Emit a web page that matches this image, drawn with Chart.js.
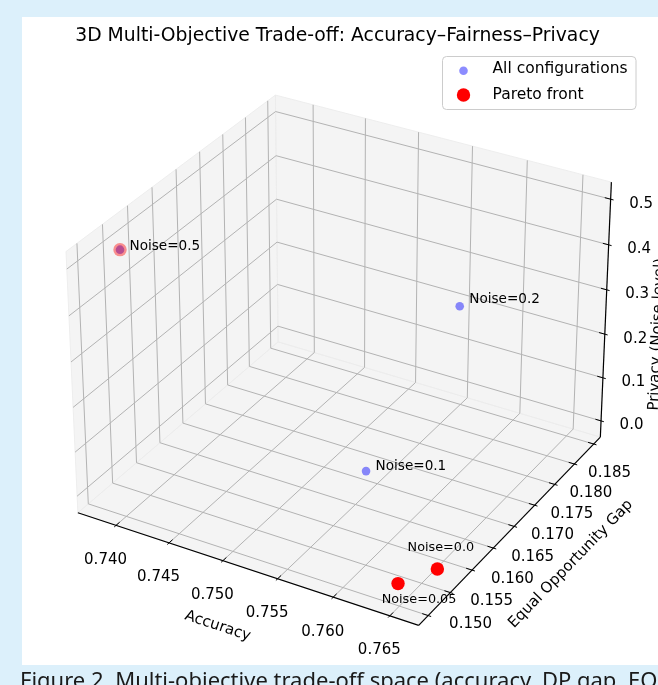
<!DOCTYPE html>
<html>
<head>
<meta charset="utf-8">
<script src="https://cdn.jsdelivr.net/npm/chart.js@4.4.1/dist/chart.umd.min.js"></script>
<style>
  html, body { margin: 0; padding: 0; background: #dcf0fb; }
  #wrap { position: relative; width: 658px; height: 685px; overflow: hidden; }
  canvas { display: block; }
</style>
</head>
<body>
<div id="wrap"><canvas id="c" width="658" height="685"></canvas></div>
<script>
// ---------- data ----------
const noiseLevels = [0.0, 0.05, 0.1, 0.2, 0.5];            // privacy (noise level)
const noiseNames  = ['0.0', '0.05', '0.1', '0.2', '0.5'];
const accuracy    = [0.7662, 0.7660, 0.7577, 0.7551, 0.7382];
const eoGap       = [0.1554, 0.1471, 0.1607, 0.1891, 0.1544];
const paretoNoise = [0.0, 0.05, 0.5];                      // configurations on the Pareto front

// axis limits of the 3D box
const accLimits  = [0.73635, 0.76752];
const eoLimits   = [0.14789, 0.19175];
const privLimits = [-0.038, 0.537];

// ticks
const accTicks       = [0.740, 0.745, 0.750, 0.755, 0.760, 0.765];
const accTickLabels  = ['0.740', '0.745', '0.750', '0.755', '0.760', '0.765'];
const eoTicks        = [0.150, 0.155, 0.160, 0.165, 0.170, 0.175, 0.180, 0.185, 0.190];
const eoTickLabels   = ['0.150', '0.155', '0.160', '0.165', '0.170', '0.175', '0.180', '0.185'];
const privTicks      = [0.0, 0.1, 0.2, 0.3, 0.4, 0.5];
const privTickLabels = ['0.0', '0.1', '0.2', '0.3', '0.4', '0.5'];

// ---------- styling ----------
const FONT = '"DejaVu Sans", "Liberation Sans", sans-serif';
const BLUE = 'rgba(0,0,255,0.45)';
const paretoColors = ['#ff0000', '#ff0000', 'rgba(255,0,0,0.42)'];
// annotation placement per configuration index: [align, dx, dy, font px]
const notePlacement = [
  ['center', 3.5, -18, 12.8],
  ['center', 21, 19.7, 12.8],
  ['left', 9.5, -1.5, 13.6],
  ['left', 9.5, -3.5, 13.6],
  ['left', 9.5, 0.5, 13.6]
];

// ---------- perspective projection (elev 30, azim -60) ----------
const D2R = Math.PI / 180;
const VIEW = { elev: 30, azim: -60, dist: 10 };
const BOX = [8 / 7, 8 / 7, 6 / 7];
const wv = [Math.cos(VIEW.elev * D2R) * Math.cos(VIEW.azim * D2R),
            Math.cos(VIEW.elev * D2R) * Math.sin(VIEW.azim * D2R),
            Math.sin(VIEW.elev * D2R)];
const un = Math.hypot(wv[0], wv[1]);
const uv = [-wv[1] / un, wv[0] / un, 0];
const vv = [wv[1] * uv[2] - wv[2] * uv[1], wv[2] * uv[0] - wv[0] * uv[2], wv[0] * uv[1] - wv[1] * uv[0]];

function project(a, e, p) {
  const q = [
    ((a - accLimits[0]) / (accLimits[1] - accLimits[0]) - 0.5) * BOX[0],
    ((e - eoLimits[0]) / (eoLimits[1] - eoLimits[0]) - 0.5) * BOX[1],
    ((p - privLimits[0]) / (privLimits[1] - privLimits[0]) - 0.5) * BOX[2]
  ];
  const dot = r => r[0] * q[0] + r[1] * q[1] + r[2] * q[2];
  const d = VIEW.dist - dot(wv);
  return { x: dot(uv) / d, y: dot(vv) / d, depth: d };
}

const allPts = noiseLevels.map((n, i) => Object.assign(project(accuracy[i], eoGap[i], n), { idx: i }));
const paretoPts = paretoNoise.map(n => {
  const i = noiseLevels.indexOf(n);
  return Object.assign(project(accuracy[i], eoGap[i], n), { idx: i });
});

// ---------- drawing helpers ----------
function px(chart, a, e, p) {
  const t = project(a, e, p);
  return [chart.scales.x.getPixelForValue(t.x), chart.scales.y.getPixelForValue(t.y)];
}
function polyline(ctx, pts, stroke, width) {
  ctx.beginPath();
  pts.forEach((pt, i) => i ? ctx.lineTo(pt[0], pt[1]) : ctx.moveTo(pt[0], pt[1]));
  ctx.strokeStyle = stroke; ctx.lineWidth = width; ctx.stroke();
}
function polygon(ctx, pts, fill, stroke) {
  ctx.beginPath();
  pts.forEach((pt, i) => i ? ctx.lineTo(pt[0], pt[1]) : ctx.moveTo(pt[0], pt[1]));
  ctx.closePath();
  ctx.fillStyle = fill; ctx.fill();
  if (stroke) { ctx.strokeStyle = stroke; ctx.lineWidth = 1; ctx.stroke(); }
}
function text(ctx, s, x, y, fs, align, rot) {
  ctx.save();
  ctx.translate(x, y);
  if (rot) ctx.rotate(rot);
  ctx.font = fs + 'px ' + FONT;
  ctx.fillStyle = '#000';
  ctx.textAlign = align || 'center';
  ctx.textBaseline = 'alphabetic';
  ctx.fillText(s, 0, 0.36 * fs);
  ctx.restore();
}
const lerp = (a, b, t) => a + (b - a) * t;

// ---------- 3D box: panes, grid, axes ----------
const boxPlugin = {
  id: 'box3d',
  beforeDraw(chart) {
    const ctx = chart.ctx;
    ctx.save();
    ctx.fillStyle = '#ffffff';
    ctx.fillRect(22, 17, 636, 648);
    ctx.restore();
  },
  beforeDatasetsDraw(chart) {
    const ctx = chart.ctx;
    const [x0, x1] = accLimits, [y0, y1] = eoLimits, [z0, z1] = privLimits;
    const P = (a, e, p) => px(chart, a, e, p);
    ctx.save();
    ctx.lineCap = 'butt';

    // panes
    const paneFill = 'rgba(236,236,236,0.6)', paneEdge = 'rgba(236,236,236,0.9)';
    polygon(ctx, [P(x0, y0, z0), P(x1, y0, z0), P(x1, y1, z0), P(x0, y1, z0)], paneFill, paneEdge);
    polygon(ctx, [P(x0, y0, z0), P(x0, y1, z0), P(x0, y1, z1), P(x0, y0, z1)], paneFill, paneEdge);
    polygon(ctx, [P(x0, y1, z0), P(x1, y1, z0), P(x1, y1, z1), P(x0, y1, z1)], paneFill, paneEdge);

    // grid lines
    const gc = '#b3b3b3', gw = 1;
    accTicks.forEach(v => polyline(ctx, [P(v, y0, z0), P(v, y1, z0), P(v, y1, z1)], gc, gw));
    eoTicks.forEach(v => polyline(ctx, [P(x1, v, z0), P(x0, v, z0), P(x0, v, z1)], gc, gw));
    privTicks.forEach(v => polyline(ctx, [P(x0, y0, v), P(x0, y1, v), P(x1, y1, v)], gc, gw));

    // axis lines
    const ac = '#000', aw = 1.2;
    polyline(ctx, [P(x0, y0, z0), P(x1, y0, z0)], ac, aw);
    polyline(ctx, [P(x1, y0, z0), P(x1, y1, z0)], ac, aw);
    polyline(ctx, [P(x1, y1, z0), P(x1, y1, z1)], ac, aw);

    // tick marks
    const dx = (x1 - x0) / 12, dy = (y1 - y0) / 12;
    accTicks.forEach(v => polyline(ctx, [P(v, y0 + 0.2 * dy, z0), P(v, y0 - 0.1 * dy, z0)], ac, 1));
    eoTicks.forEach(v => polyline(ctx, [P(x1 - 0.2 * dx, v, z0), P(x1 + 0.1 * dx, v, z0)], ac, 1));
    privTicks.forEach(v => polyline(ctx, [P(x1 - 0.2 * dx, y1, v), P(x1 + 0.1 * dx, y1, v)], ac, 1));

    // tick labels
    accTickLabels.forEach((s, i) => {
      const t = P(accTicks[i], y0, z0);
      text(ctx, s, t[0] - 10.5, t[1] + 33, 15);
    });
    eoTickLabels.forEach((s, i) => {
      const t = P(x1, eoTicks[i], z0);
      const k = i / (eoTickLabels.length - 1);
      text(ctx, s, t[0] + lerp(42.4, 35.2, k), t[1] + lerp(7.1, 7.7, k), 15);
    });
    privTickLabels.forEach((s, i) => {
      const t = P(x1, y1, privTicks[i]);
      text(ctx, s, t[0] + 30.5, t[1] + 3, 15);
    });

    // axis titles
    const xa = P(x0, y0, z0), xb = P(x1, y0, z0);
    const ya = P(x1, y0, z0), yb = P(x1, y1, z0);
    const za = P(x1, y1, z0), zb = P(x1, y1, z1);
    const xm = P((x0 + x1) / 2, y0, z0), ym = P(x1, (y0 + y1) / 2, z0), zm = P(x1, y1, (z0 + z1) / 2);
    text(ctx, 'Accuracy', xm[0] - 25.8, xm[1] + 57, 15, 'center', Math.atan2(xb[1] - xa[1], xb[0] - xa[0]));
    text(ctx, 'Equal Opportunity Gap', ym[0] + 56.3, ym[1] + 35.8, 15, 'center', Math.atan2(yb[1] - ya[1], yb[0] - ya[0]));
    text(ctx, 'Privacy (Noise level)', zm[0] + 50, zm[1] + 22, 15, 'center', Math.atan2(zb[1] - za[1], zb[0] - za[0]));
    ctx.restore();
  },
  afterDatasetsDraw(chart) {
    const ctx = chart.ctx;
    ctx.save();
    const sx = chart.scales.x, sy = chart.scales.y;

    // point annotations
    allPts.forEach(pt => {
      const [align, ddx, ddy, fs] = notePlacement[pt.idx];
      const x = sx.getPixelForValue(pt.x), y = sy.getPixelForValue(pt.y);
      ctx.font = fs + 'px ' + FONT;
      ctx.fillStyle = '#000';
      ctx.textAlign = align;
      ctx.textBaseline = 'alphabetic';
      ctx.fillText('Noise=' + noiseNames[pt.idx], x + ddx, y + ddy);
    });

    // title
    ctx.font = '18.8px ' + FONT;
    ctx.fillStyle = '#000';
    ctx.textAlign = 'center';
    ctx.textBaseline = 'alphabetic';
    ctx.fillText('3D Multi-Objective Trade-off: Accuracy\u2013Fairness\u2013Privacy', 337.5, 41);

    // legend
    const lx = 442.5, ly = 56.5, lw = 193.5, lh = 53;
    ctx.beginPath();
    ctx.roundRect(lx, ly, lw, lh, 4);
    ctx.fillStyle = 'rgba(255,255,255,0.8)';
    ctx.fill();
    ctx.strokeStyle = '#cccccc';
    ctx.lineWidth = 1;
    ctx.stroke();
    const ds = chart.data.datasets;
    ctx.beginPath(); ctx.arc(463.5, 70.7, 4.3, 0, Math.PI * 2); ctx.fillStyle = BLUE; ctx.fill();
    ctx.beginPath(); ctx.arc(463.5, 95, 6.7, 0, Math.PI * 2); ctx.fillStyle = '#ff0000'; ctx.fill();
    ctx.font = '15.5px ' + FONT;
    ctx.fillStyle = '#000';
    ctx.textAlign = 'left';
    ctx.fillText(ds[0].label, 492.5, 73);
    ctx.fillText(ds[1].label, 492.5, 98.5);

    // figure caption
    ctx.font = '22px "Noto Sans", sans-serif';
    ctx.fillStyle = '#1a1a1a';
    ctx.textAlign = 'left';
    ctx.fillText('Figure 2. Multi-objective trade-off space (accuracy, DP gap, EO', 20, 688);
    ctx.restore();
  }
};

new Chart(document.getElementById('c'), {
  type: 'scatter',
  data: {
    datasets: [
      { label: 'All configurations', data: allPts, order: 1,
        pointRadius: 4.3, pointHoverRadius: 4.3, pointBackgroundColor: BLUE, pointBorderWidth: 0, borderWidth: 0 },
      { label: 'Pareto front', data: paretoPts, order: 0,
        pointRadius: 6.7, pointHoverRadius: 6.7, pointBackgroundColor: paretoColors, pointBorderWidth: 0, borderWidth: 0 }
    ]
  },
  options: {
    responsive: false,
    animation: false,
    devicePixelRatio: 1,
    events: [],
    layout: { padding: { left: 19.1, top: 35.25, right: 2.5, bottom: 6.9 } },
    scales: {
      x: { type: 'linear', min: -0.095, max: 0.09, display: false },
      y: { type: 'linear', min: -0.095, max: 0.09, display: false }
    },
    plugins: { legend: { display: false }, tooltip: { enabled: false }, title: { display: false } }
  },
  plugins: [boxPlugin]
});
</script>
</body>
</html>
